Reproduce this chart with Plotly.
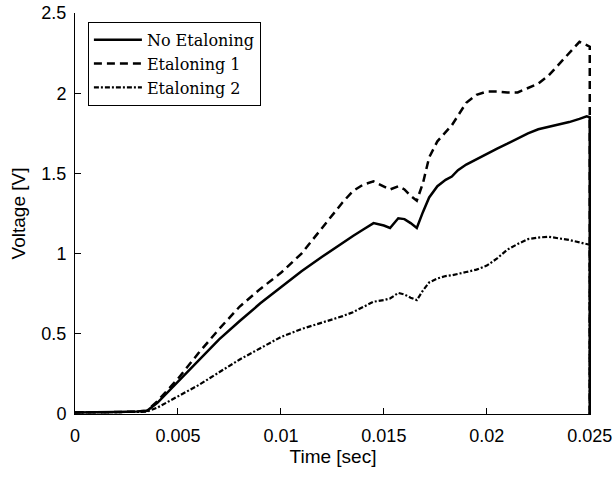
import plotly.graph_objects as go

time_s = [0, 0.001, 0.002, 0.003, 0.0035, 0.004, 0.005, 0.006, 0.007, 0.008, 0.009,
          0.010, 0.011, 0.012, 0.013, 0.0135, 0.014, 0.0145, 0.015, 0.0153, 0.0157,
          0.016, 0.0163, 0.0166, 0.0169, 0.0172, 0.0176, 0.018, 0.0183, 0.0186, 0.019,
          0.0195, 0.020, 0.0205, 0.021, 0.0215, 0.022, 0.0225, 0.023, 0.0235, 0.024,
          0.0245, 0.02485, 0.025, 0.025]

no_etaloning = [0.01, 0.01, 0.012, 0.015, 0.02, 0.07, 0.20, 0.335, 0.465, 0.58, 0.69,
                0.79, 0.89, 0.98, 1.07, 1.11, 1.15, 1.19, 1.175, 1.16, 1.22,
                1.215, 1.19, 1.16, 1.26, 1.35, 1.42, 1.46, 1.48, 1.52, 1.555,
                1.59, 1.62, 1.655, 1.685, 1.72, 1.75, 1.775, 1.79, 1.805, 1.82,
                1.84, 1.856, 1.85, 0.0]

etaloning_1 = [0.01, 0.01, 0.012, 0.015, 0.02, 0.08, 0.22, 0.38, 0.53, 0.67, 0.78,
               0.88, 1.0, 1.16, 1.32, 1.39, 1.43, 1.45, 1.42, 1.40, 1.42,
               1.40, 1.36, 1.33, 1.44, 1.60, 1.70, 1.76, 1.80, 1.86, 1.94,
               1.99, 2.01, 2.01, 2.005, 2.005, 2.03, 2.06, 2.11, 2.18, 2.25,
               2.32, 2.30, 2.29, 0.0]

etaloning_2 = [0.01, 0.01, 0.012, 0.013, 0.015, 0.04, 0.11, 0.18, 0.26, 0.34, 0.41,
               0.48, 0.53, 0.57, 0.61, 0.635, 0.67, 0.70, 0.71, 0.72, 0.755,
               0.745, 0.725, 0.71, 0.77, 0.82, 0.845, 0.86, 0.865, 0.875, 0.885,
               0.90, 0.925, 0.97, 1.025, 1.06, 1.09, 1.10, 1.105, 1.095, 1.085,
               1.07, 1.06, 1.055, 0.0]

x_ticks = [0, 0.005, 0.01, 0.015, 0.02, 0.025]
x_tick_labels = ["0", "0.005", "0.01", "0.015", "0.02", "0.025"]
y_ticks = [0, 0.5, 1, 1.5, 2, 2.5]
y_tick_labels = ["0", "0.5", "1", "1.5", "2", "2.5"]

fig = go.Figure()
fig.add_trace(go.Scatter(x=time_s, y=etaloning_2, mode="lines", name="Etaloning 2",
                         line=dict(color="black", width=2.2, dash="5px,2px,2px,2px")))
fig.add_trace(go.Scatter(x=time_s, y=etaloning_1, mode="lines", name="Etaloning 1",
                         line=dict(color="black", width=2.5, dash="8px,5px")))
fig.add_trace(go.Scatter(x=time_s, y=no_etaloning, mode="lines", name="No Etaloning",
                         line=dict(color="black", width=2.5)))

tick_font = dict(family="Liberation Sans, Arial, sans-serif", size=18, color="black")
title_font = dict(family="Liberation Sans, Arial, sans-serif", size=19, color="black")

fig.update_layout(
    width=613, height=477,
    margin=dict(l=75, r=22, t=13, b=63),
    paper_bgcolor="white", plot_bgcolor="white",
    showlegend=True,
    legend=dict(x=0.025, y=0.978, xanchor="left", yanchor="top",
                traceorder="reversed",
                bgcolor="white", bordercolor="black", borderwidth=1,
                font=dict(family="DejaVu Serif, Liberation Serif, serif", size=16, color="black"),
                itemwidth=48, tracegroupgap=0),
    xaxis=dict(range=[0, 0.02506], tickmode="array", tickvals=x_ticks, ticktext=x_tick_labels,
               ticks="inside", ticklen=6, tickcolor="black", showline=True, linecolor="black",
               linewidth=1, showgrid=False, zeroline=False, tickfont=tick_font,
               ticklabelstandoff=5, automargin=False,
               title=dict(text="Time [sec]", font=title_font, standoff=2)),
    yaxis=dict(range=[0, 2.5], tickmode="array", tickvals=y_ticks, ticktext=y_tick_labels,
               ticks="inside", ticklen=6, tickcolor="black", showline=True, linecolor="black",
               linewidth=1, showgrid=False, zeroline=False, tickfont=tick_font,
               ticklabelstandoff=4, automargin=False,
               title=dict(text="Voltage [V]", font=title_font, standoff=10)),
)

fig.write_html("out.html")
